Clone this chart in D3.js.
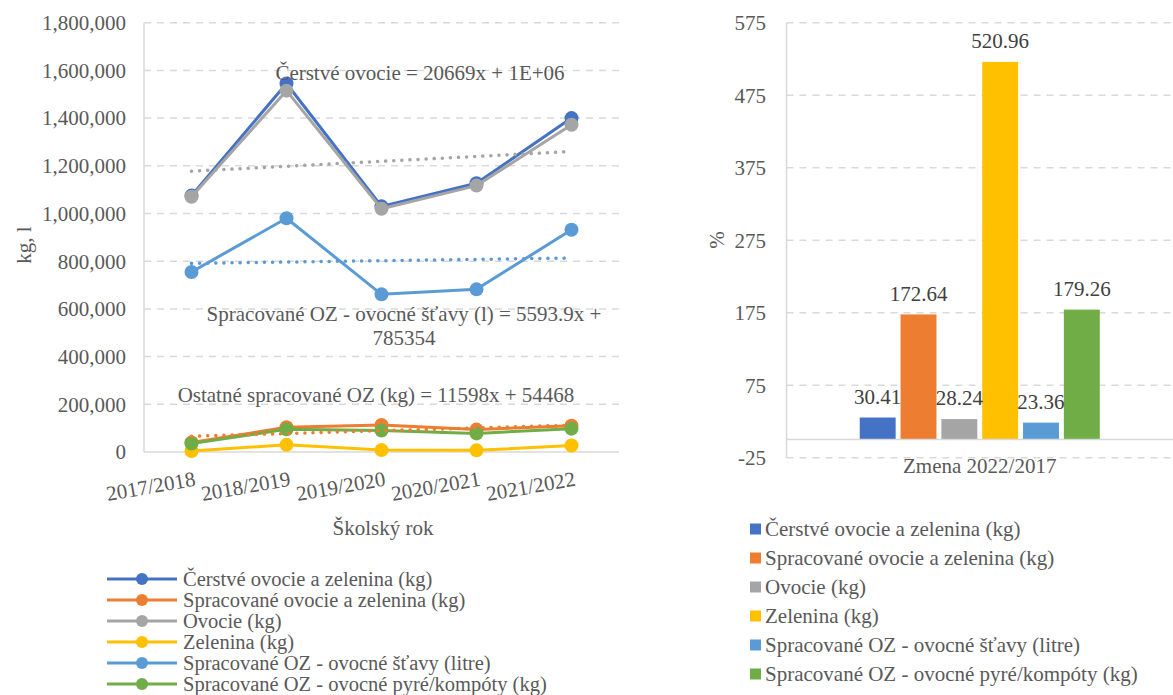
<!DOCTYPE html>
<html><head><meta charset="utf-8">
<script src="https://cdn.jsdelivr.net/npm/d3@7"></script>
<style>
body{margin:0;background:#fff;}
svg{display:block;}
svg text{font-family:"Liberation Serif","Times New Roman","DejaVu Serif",serif;}
</style></head>
<body><svg id="c" width="1173" height="695"></svg>
<script>
// ---- data ----
const years = ["2017/2018","2018/2019","2019/2020","2020/2021","2021/2022"];
const seriesNames = ["Čerstvé ovocie a zelenina (kg)","Spracované ovocie a zelenina (kg)","Ovocie (kg)","Zelenina (kg)","Spracované OZ - ovocné šťavy (litre)","Spracované OZ - ovocné pyré/kompóty (kg)"];
const cerstve = [1075000,1545000,1030000,1127000,1400000];
const spracovane = [40000,103500,113000,94000,110000];
const ovocie = [1070000,1515000,1020000,1117000,1372000];
const zelenina = [4400,30000,8000,7000,27000];
const stavy = [755000,980000,661000,682000,932000];
const pyre = [35500,95000,90000,78000,98000];
const colors = ["#4472C4","#ED7D31","#A5A5A5","#FFC000","#5B9BD5","#70AD47"];
const leftTicks = [0,200000,400000,600000,800000,1000000,1200000,1400000,1600000,1800000];
// trendlines (from the equations shown): series index, slope, intercept, label
const trendSeries = [2,4,1];
const trendSlope = [20669,5593.9,11598];
const trendIntercept = [1156800,785354,54468];
const trendLabels = [["Čerstvé ovocie = 20669x + 1E+06"],["Spracované OZ - ovocné šťavy (l) = 5593.9x +","785354"],["Ostatné spracované OZ (kg) = 11598x + 54468"]];
// right chart
const changeCategory = ["Zmena 2022/2017"];
const changeValues = [30.41,172.64,28.24,520.96,23.36,179.26];
const rightTicks = [-25,75,175,275,375,475,575];

const allSeries = [cerstve,spracovane,ovocie,zelenina,stavy,pyre];
const svg = d3.select("#c").attr("font-family","'Liberation Serif','Times New Roman',serif");
const txt = "#595959", grid = "#d9d9d9", FS = 21;

// ---- left chart ----
const x = d3.scaleBand().domain(years).range([144,619]);
const y = d3.scaleLinear().domain([0,1800000]).range([452,22.7]);
const L = svg.append("g");
L.selectAll("line.g").data(leftTicks.filter(d=>d>0)).join("line")
 .attr("x1",144).attr("x2",619).attr("y1",d=>y(d)).attr("y2",d=>y(d))
 .attr("stroke",grid).attr("stroke-width",1.5).attr("stroke-dasharray","7,6");
L.append("line").attr("x1",144).attr("x2",144).attr("y1",y(1800000)).attr("y2",y(0)).attr("stroke",grid).attr("stroke-width",1.5);
L.append("line").attr("x1",144).attr("x2",619).attr("y1",y(0)).attr("y2",y(0)).attr("stroke",grid).attr("stroke-width",1.5);
L.selectAll("text.yt").data(leftTicks).join("text")
 .attr("x",126).attr("y",d=>y(d)).attr("dy","0.35em").attr("text-anchor","end")
 .attr("font-size",FS).attr("fill",txt).text(d=>d3.format(",")(d));
L.selectAll("text.xt").data(years).join("text")
 .attr("transform",d=>`translate(${x(d)+x.bandwidth()/2+2},470) rotate(-10)`)
 .attr("text-anchor","end").attr("dy","0.75em").attr("font-size",FS).attr("fill",txt).text(d=>d);
L.append("text").attr("x",383).attr("y",528).attr("dy","0.35em").attr("text-anchor","middle").attr("font-size",FS).attr("fill",txt).text("Školský rok");
L.append("text").attr("transform","translate(24,245) rotate(-90)").attr("dy","0.35em").attr("text-anchor","middle").attr("font-size",FS).attr("fill",txt).text("kg, l");

const cx = d => x(d)+x.bandwidth()/2;
const line = d3.line().x((d,i)=>cx(years[i])).y(d=>y(d));
allSeries.forEach((s,k)=>{
  const g = L.append("g");
  g.append("path").attr("d",line(s)).attr("fill","none").attr("stroke",colors[k]).attr("stroke-width",3).attr("stroke-linejoin","round");
  g.selectAll("circle").data(s).join("circle").attr("cx",(d,i)=>cx(years[i])).attr("cy",d=>y(d)).attr("r",7).attr("fill",colors[k]);
});
// trendlines
trendSeries.forEach((si,t)=>{
  const pts = years.map((yr,i)=>[cx(yr), y(trendSlope[t]*(i+1)+trendIntercept[t])]);
  L.append("path").attr("d",d3.line()(pts)).attr("fill","none").attr("stroke",colors[si])
   .attr("stroke-width",3.5).attr("stroke-linecap","round").attr("stroke-dasharray","0.1,8");
});
const labelPos = [[420,[72.7]],[404,[314,337.7]],[376,[395]]];
trendLabels.forEach((lines,t)=>{
  lines.forEach((ln,j)=>{
    L.append("text").attr("x",labelPos[t][0]).attr("y",labelPos[t][1][j]).attr("dy","0.35em")
     .attr("text-anchor","middle").attr("font-size",FS).attr("fill",txt).text(ln);
  });
});
// left legend
const LL = svg.append("g");
seriesNames.forEach((n,k)=>{
  const yy = 579 + k*21;
  LL.append("line").attr("x1",107).attr("x2",177).attr("y1",yy).attr("y2",yy).attr("stroke",colors[k]).attr("stroke-width",3);
  LL.append("circle").attr("cx",142).attr("cy",yy).attr("r",6).attr("fill",colors[k]);
  LL.append("text").attr("x",183).attr("y",yy).attr("dy","0.35em").attr("font-size",20.5).attr("fill",txt).text(n);
});

// ---- right chart ----
const x0 = d3.scaleBand().domain(changeCategory).range([786.5,1173]).paddingOuter(0.305);
const x1 = d3.scaleBand().domain(seriesNames).range([x0(changeCategory[0]),x0(changeCategory[0])+x0.bandwidth()]).paddingInner(0.12).paddingOuter(0);
const yr = d3.scaleLinear().domain([-25,575]).range([457.7,22.7]);
const R = svg.append("g");
R.selectAll("line.g").data(rightTicks).join("line")
 .attr("x1",786.5).attr("x2",1173).attr("y1",d=>yr(d)).attr("y2",d=>yr(d))
 .attr("stroke",grid).attr("stroke-width",1.5).attr("stroke-dasharray","7,6");
R.append("line").attr("x1",786.5).attr("x2",786.5).attr("y1",yr(575)).attr("y2",yr(-25)).attr("stroke",grid).attr("stroke-width",1.5);
R.selectAll("text.yt").data(rightTicks).join("text")
 .attr("x",766).attr("y",d=>yr(d)).attr("dy","0.35em").attr("text-anchor","end")
 .attr("font-size",FS).attr("fill",txt).text(d=>d);
R.append("text").attr("transform","translate(717,240) rotate(-90)").attr("dy","0.35em").attr("text-anchor","middle").attr("font-size",FS).attr("fill",txt).text("%");
R.selectAll("rect.b").data(changeValues).join("rect")
 .attr("x",(d,i)=>x1(seriesNames[i])).attr("width",x1.bandwidth())
 .attr("y",d=>yr(Math.max(0,d))).attr("height",d=>Math.abs(yr(d)-yr(0)))
 .attr("fill",(d,i)=>colors[i]);
R.append("line").attr("x1",786.5).attr("x2",1173).attr("y1",yr(0)).attr("y2",yr(0)).attr("stroke",grid).attr("stroke-width",1.5);
R.selectAll("text.v").data(changeValues).join("text")
 .attr("x",(d,i)=>x1(seriesNames[i])+x1.bandwidth()/2).attr("y",d=>yr(d)-21).attr("dy","0.35em")
 .attr("text-anchor","middle").attr("font-size",FS).attr("fill","#404040").text(d=>d3.format(".2f")(d));
R.append("text").attr("x",x0(changeCategory[0])+x0.bandwidth()/2).attr("y",466).attr("dy","0.35em").attr("text-anchor","middle").attr("font-size",FS).attr("fill",txt).text(changeCategory[0]);
// right legend
seriesNames.forEach((n,k)=>{
  const yy = 529 + k*29;
  R.append("rect").attr("x",750).attr("y",yy-5.5).attr("width",11).attr("height",11).attr("fill",colors[k]);
  R.append("text").attr("x",765).attr("y",yy).attr("dy","0.35em").attr("font-size",FS).attr("fill",txt).text(n);
});
</script></body></html>
